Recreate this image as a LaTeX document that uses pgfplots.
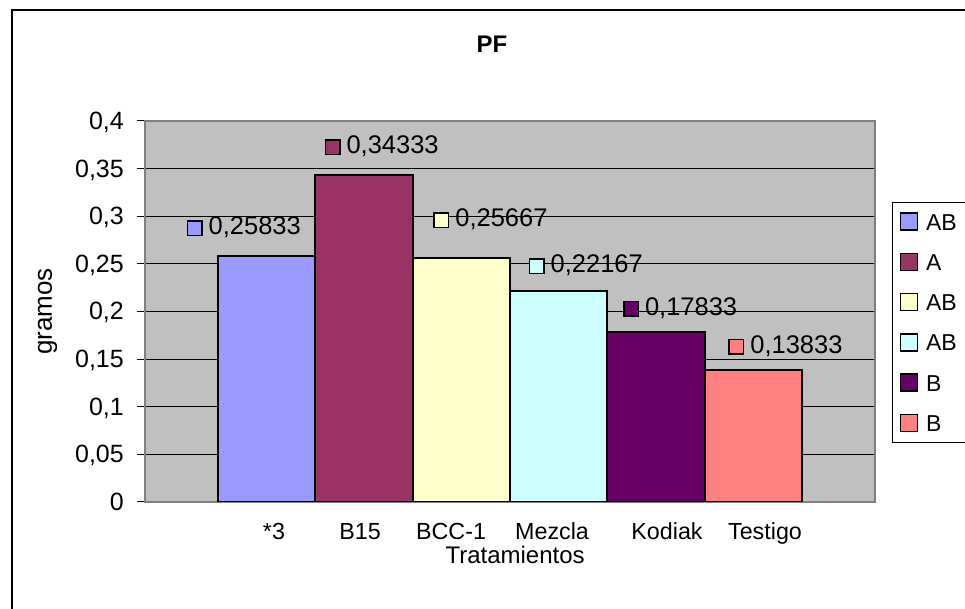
\documentclass[border=0pt]{standalone}
\usepackage{fontspec}
\setmainfont{Liberation Sans}
\usepackage{pgfplots}
\pgfplotsset{compat=1.18}
\definecolor{cA}{HTML}{9999FF}
\definecolor{cB}{HTML}{993366}
\definecolor{cC}{HTML}{FFFFCC}
\definecolor{cD}{HTML}{CCFFFF}
\definecolor{cE}{HTML}{660066}
\definecolor{cF}{HTML}{FF8080}
\definecolor{plotbg}{HTML}{C0C0C0}
\definecolor{bordergray}{HTML}{808080}
\newcommand{\fs}[1]{\fontsize{#1pt}{#1pt}\selectfont}
\newcommand{\lab}[1]{{\setlength{\fboxsep}{0pt}\setlength{\fboxrule}{1.5pt}\fcolorbox{black}{#1}{\rule{13pt}{0pt}\rule{0pt}{13pt}}}\hspace{6pt}\pgfmathprintnumber[fixed,precision=5,use comma,assume math mode=true]{\pgfplotspointmeta}}
\begin{document}
\begin{tikzpicture}[x=1pt,y=1pt]
\useasboundingbox (0,0) rectangle (965,609);
\begin{scope}
\clip (0,0) rectangle (965,609);
\fill[white] (0,0) rectangle (965,609);
\draw[line width=1.5pt] (12,-20) -- (12,599) -- (990,599);
\node[font=\fs{24}\bfseries, anchor=base] at (492,556) {PF};
\begin{axis}[
  at={(145pt,107pt)}, anchor=south west, scale only axis,
  width=730pt, height=381pt,
  ybar, bar width=1,
  every axis plot post/.append style={bar shift=0pt,
    legend image code/.code={\draw[##1,/tikz/.cd,line width=1.5pt] (0pt,0pt) rectangle (17pt,17pt);}},
  xmin=-1.25, xmax=6.25, ymin=0, ymax=0.4,
  axis background/.style={fill=plotbg},
  axis line style={draw=bordergray, line width=2.5pt},
  ymajorgrids, major grid style={black, line width=1pt},
  ytick={0,0.05,0.1,0.15,0.2,0.25,0.3,0.35,0.4},
  scaled y ticks=false,
  ytick align=outside, ytick pos=left, major tick length=8pt,
  ytick style={black, line width=1pt},
  yticklabel style={/pgf/number format/.cd, fixed, use comma, precision=2, assume math mode=true, /tikz/.cd,
    anchor=base east, inner sep=0pt, yshift=-8.5pt, xshift=-13pt, font=\fs{25}},
  xtick={0.075,0.959,1.894,2.932,4.113,5.12},
  xticklabels={*3,B15,BCC-1,Mezcla,Kodiak,Testigo},
  xtick style={draw=none},
  xticklabel style={anchor=base, inner sep=0pt, yshift=-30pt, font=\fs{23.3}},
  xlabel={Tratamientos},
  xlabel style={at={([yshift=-62pt]axis description cs:0.507,0)}, anchor=base, inner sep=0pt, font=\fs{24}},
  ylabel={gramos},
  ylabel style={at={([xshift=-93pt]axis description cs:0,0.5)}, anchor=base, inner sep=0pt, font=\fs{26}},
  legend cell align=left,
  legend style={at={(1.0233,0.7874)}, anchor=north west, draw=black, line width=1pt, fill=white,
    inner xsep=7pt, inner ysep=10pt, row sep=21pt, font=\fs{23},
    nodes={inner sep=0pt, text width=50pt, anchor=base west}},
]
\addplot[fill=cA, draw=black, line width=2pt, nodes near coords={\lab{cA}},
  every node near coord/.append style={anchor=base west, inner sep=0pt, font=\fs{25.5}, xshift=-81pt, yshift=21pt}]
  coordinates {(0,0.25833)};
\addlegendentry{\hspace{8pt}AB}
\addplot[fill=cB, draw=black, line width=2pt, nodes near coords={\lab{cB}},
  every node near coord/.append style={anchor=base west, inner sep=0pt, font=\fs{25.5}, xshift=-40.5pt, yshift=21pt}]
  coordinates {(1,0.34333)};
\addlegendentry{\hspace{8pt}A}
\addplot[fill=cC, draw=black, line width=2pt, nodes near coords={\lab{cC}},
  every node near coord/.append style={anchor=base west, inner sep=0pt, font=\fs{25.5}, xshift=-29pt, yshift=31pt}]
  coordinates {(2,0.25667)};
\addlegendentry{\hspace{8pt}AB}
\addplot[fill=cD, draw=black, line width=2pt, nodes near coords={\lab{cD}},
  every node near coord/.append style={anchor=base west, inner sep=0pt, font=\fs{25.5}, xshift=-31pt, yshift=18pt}]
  coordinates {(3,0.22167)};
\addlegendentry{\hspace{8pt}AB}
\addplot[fill=cE, draw=black, line width=2pt, nodes near coords={\lab{cE}},
  every node near coord/.append style={anchor=base west, inner sep=0pt, font=\fs{25.5}, xshift=-34pt, yshift=17pt}]
  coordinates {(4,0.17833)};
\addlegendentry{\hspace{8pt}B}
\addplot[fill=cF, draw=black, line width=2pt, nodes near coords={\lab{cF}},
  every node near coord/.append style={anchor=base west, inner sep=0pt, font=\fs{25.5}, xshift=-26pt, yshift=17pt}]
  coordinates {(5,0.13833)};
\addlegendentry{\hspace{8pt}B}
\end{axis}
\end{scope}
\end{tikzpicture}
\end{document}
